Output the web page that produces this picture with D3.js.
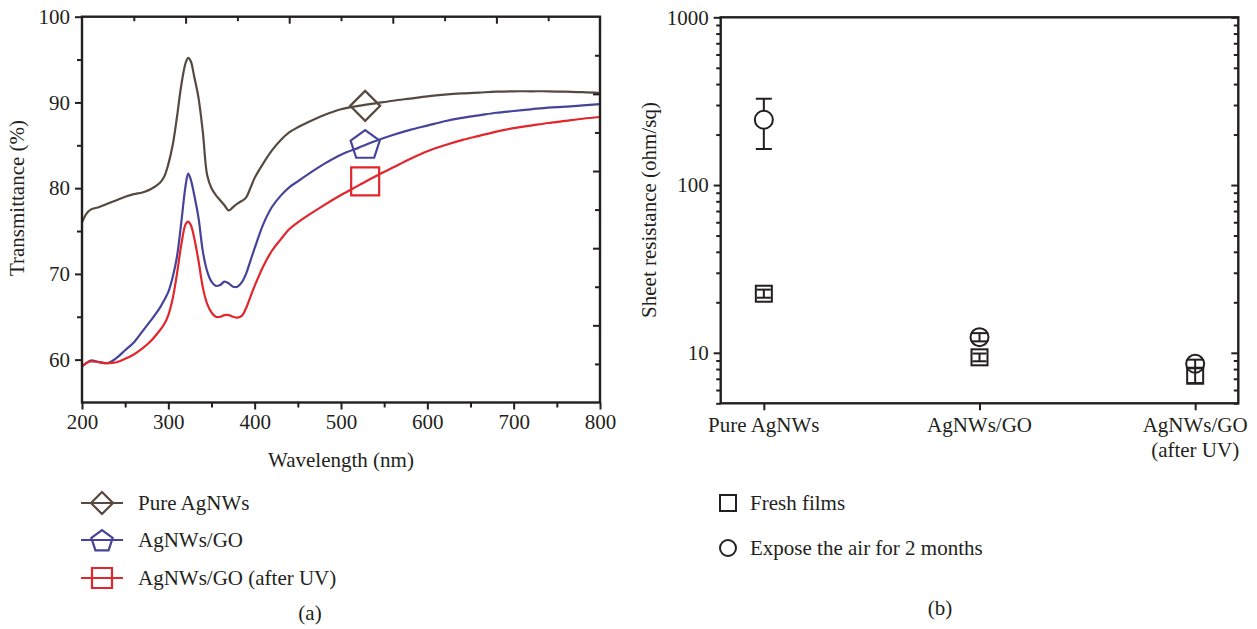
<!DOCTYPE html>
<html><head><meta charset="utf-8">
<script src="https://cdn.jsdelivr.net/npm/d3@7"></script>
<style>
html,body{margin:0;padding:0;background:#fff;}
svg text{font-family:"Liberation Serif","DejaVu Serif",serif;fill:#231f20;}
</style></head>
<body>
<svg id="c" width="1257" height="629"></svg>
<script>
// ---------- DATA (a) ----------
const wavelengths = [200,205,210,220,230,240,250,260,270,280,290,295,300,305,310,315,320,323,326,330,335,340,345,350,355,360,365,370,375,380,385,390,395,400,410,420,430,440,450,460,480,500,520,540,560,580,600,620,640,660,680,700,720,740,760,780,800];
const pureAgNWs = [76.0,77.0,77.5,77.8,78.2,78.6,79.0,79.3,79.5,79.9,80.6,81.3,82.8,85.0,88.3,92.0,94.6,95.2,94.8,93.0,90.5,86.5,81.5,80.0,79.2,78.6,78.0,77.4,77.8,78.2,78.5,78.9,80.0,81.2,82.9,84.4,85.6,86.5,87.1,87.6,88.5,89.2,89.6,89.9,90.2,90.45,90.7,90.9,91.05,91.15,91.25,91.3,91.3,91.3,91.25,91.2,91.1];
const agnwsGO = [59.2,59.6,59.9,59.7,59.6,60.2,61.1,62.0,63.3,64.6,66.0,66.9,67.9,69.6,72.0,76.0,80.3,81.7,81.0,79.2,76.5,72.6,70.3,69.1,68.6,68.7,69.1,68.9,68.5,68.5,69.0,70.0,71.5,73.0,75.8,77.8,79.1,80.1,80.8,81.5,82.8,83.9,84.7,85.5,86.2,86.8,87.3,87.8,88.2,88.5,88.8,89.0,89.2,89.4,89.5,89.65,89.8];
const agnwsGOUV = [59.2,59.6,59.8,59.7,59.6,59.7,60.1,60.6,61.3,62.2,63.4,64.1,65.2,67.1,70.0,73.4,75.8,76.1,75.7,74.2,71.5,68.4,66.5,65.5,65.0,65.0,65.2,65.2,65.0,64.9,65.1,66.0,67.3,68.6,70.9,72.7,74.0,75.2,76.0,76.7,78.0,79.2,80.3,81.4,82.4,83.4,84.3,85.0,85.6,86.1,86.6,87.0,87.3,87.6,87.85,88.1,88.3];
const seriesNamesA = ["Pure AgNWs","AgNWs/GO","AgNWs/GO (after UV)"];
const seriesColorsA = ["#574840","#45449a","#e2262b"];
const seriesSymbolsA = ["diamond","pentagon","square"];
const markerWavelength = 528;
const markerValues = [89.6, 85.2, 80.8];
const xTicksA = [200,300,400,500,600,700,800];
const yTicksA = [60,70,80,90,100];

// ---------- DATA (b) ----------
const categoriesB = ["Pure AgNWs","AgNWs/GO","AgNWs/GO\n(after UV)"];
const freshValues = [22.5, 9.4, 7.3];
const freshLow = [21.3, 8.9, 6.6];
const freshHigh = [23.8, 9.9, 8.1];
const exposedValues = [245, 12.4, 8.6];
const exposedLow = [164, 11.7, 8.1];
const exposedHigh = [327, 13.1, 9.1];
const yTicksB = [10,100,1000];
const legendB = ["Fresh films","Expose the air for 2 months"];

const ink = "#231f20";
const FS = "21px";
const svg = d3.select("#c");

// ================= CHART (a) =================
const xA = d3.scaleLinear().domain([200,800]).range([82,600]);
const yA = d3.scaleLinear().domain([55,100]).range([402.5,16.7]);
const gA = svg.append("g");

const seriesA = [pureAgNWs, agnwsGO, agnwsGOUV];
const line = d3.line().x((d,i)=>xA(wavelengths[i])).y(d=>yA(d)).curve(d3.curveCatmullRom.alpha(0.5));
seriesA.forEach((s,k)=>{
  gA.append("path").attr("d", line(s)).attr("fill","none")
    .attr("stroke", seriesColorsA[k]).attr("stroke-width",2.2).attr("stroke-linejoin","round");
});

function symPath(type, size){
  const h = size/2;
  if(type==="diamond") return `M0,${-h}L${h},0L0,${h}L${-h},0Z`;
  if(type==="square") return `M${-h},${-h}H${h}V${h}H${-h}Z`;
  if(type==="pentagon"){
    const r = h*1.02; let p="";
    for(let i=0;i<5;i++){const a=-Math.PI/2+i*2*Math.PI/5; p+=(i?"L":"M")+(r*Math.cos(a)).toFixed(2)+","+(r*Math.sin(a)+h*0.12).toFixed(2);}
    return p+"Z";
  }
}
markerValues.forEach((v,k)=>{
  gA.append("path").attr("d", symPath(seriesSymbolsA[k], seriesSymbolsA[k]==="square"?28:30))
    .attr("transform",`translate(${xA(markerWavelength)},${yA(v)})`)
    .attr("fill","none").attr("stroke",seriesColorsA[k]).attr("stroke-width",2.2);
});

gA.append("rect").attr("x",xA(200)).attr("y",yA(100)).attr("width",xA(800)-xA(200)).attr("height",yA(55)-yA(100))
  .attr("fill","none").attr("stroke",ink).attr("stroke-width",2.4);

gA.append("g").attr("transform",`translate(0,${yA(55)})`)
  .call(d3.axisBottom(xA).tickValues(xTicksA).tickSize(7).tickSizeOuter(0).tickPadding(5).tickFormat(d3.format("d")));
gA.append("g").attr("transform",`translate(0,${yA(55)})`)
  .call(d3.axisBottom(xA).tickValues(d3.range(250,800,100)).tickSize(5).tickSizeOuter(0).tickFormat(""));
gA.append("g").attr("transform",`translate(${xA(200)},0)`)
  .call(d3.axisLeft(yA).tickValues(yTicksA).tickSize(7).tickSizeOuter(0).tickPadding(5).tickFormat(d3.format("d")));
gA.append("g").attr("transform",`translate(${xA(200)},0)`)
  .call(d3.axisLeft(yA).tickValues([65,75,85,95]).tickSize(5).tickSizeOuter(0).tickFormat(""));
const topS = d3.scaleLinear().domain([0,10]).range([xA(200),xA(800)]);
gA.append("g").attr("transform",`translate(0,${yA(100)})`)
  .call(d3.axisTop(topS).tickValues([2,4,6,8]).tickSize(-7).tickSizeOuter(0).tickFormat(""));
gA.append("g").attr("transform",`translate(0,${yA(100)})`)
  .call(d3.axisTop(topS).tickValues([1,3,5,7,9]).tickSize(-4.5).tickSizeOuter(0).tickFormat(""));
const rightS = d3.scaleLinear().domain([0,10]).range([yA(100),yA(55)]);
gA.append("g").attr("transform",`translate(${xA(800)},0)`)
  .call(d3.axisRight(rightS).tickValues([2,4,6,8]).tickSize(-7).tickSizeOuter(0).tickFormat(""));
gA.append("g").attr("transform",`translate(${xA(800)},0)`)
  .call(d3.axisRight(rightS).tickValues([1,3,5,7,9]).tickSize(-5).tickSizeOuter(0).tickFormat(""));

gA.append("text").attr("x",(xA(200)+xA(800))/2).attr("y",467).attr("text-anchor","middle")
  .style("font-size",FS).text("Wavelength (nm)");
gA.append("text").attr("transform","translate(24,198) rotate(-90)").attr("text-anchor","middle")
  .style("font-size",FS).text("Transmittance (%)");

const legYA = [503, 540, 578];
seriesNamesA.forEach((n,k)=>{
  const g = gA.append("g").attr("transform",`translate(102,${legYA[k]})`);
  g.append("line").attr("x1",-21).attr("x2",21).attr("stroke",seriesColorsA[k]).attr("stroke-width",2.2);
  g.append("path").attr("d",symPath(seriesSymbolsA[k], seriesSymbolsA[k]==="square"?20:22))
    .attr("fill","none").attr("stroke",seriesColorsA[k]).attr("stroke-width",2.2);
  gA.append("text").attr("x",138).attr("y",legYA[k]).attr("dy","0.35em").style("font-size",FS).text(n);
});
gA.append("text").attr("x",310).attr("y",613).attr("text-anchor","middle").attr("dy","0.35em")
  .style("font-size",FS).text("(a)");

// ================= CHART (b) =================
const xB = d3.scaleLinear().domain([0.8,3.2]).range([720.7,1238.3]);
const yB = d3.scaleLog().domain([5,1000]).range([403.3,17.3]);
const gB = svg.append("g");

gB.append("rect").attr("x",xB(0.8)).attr("y",yB(1000)).attr("width",xB(3.2)-xB(0.8)).attr("height",yB(5)-yB(1000))
  .attr("fill","none").attr("stroke",ink).attr("stroke-width",2.4);

const minorB = [];
[1,10,100].forEach(dec=>{for(let m=2;m<=9;m++){const v=m*dec; if(v>=5 && v<1000 && v!==10 && v!==100) minorB.push(v);}});
gB.append("g").attr("transform",`translate(${xB(0.8)},0)`)
  .call(d3.axisLeft(yB).tickValues(yTicksB).tickSize(7).tickSizeOuter(0).tickPadding(5).tickFormat(d3.format("d")));
gB.append("g").attr("transform",`translate(${xB(0.8)},0)`)
  .call(d3.axisLeft(yB).tickValues(minorB).tickSize(4.5).tickSizeOuter(0).tickFormat(""));
gB.append("g").attr("transform",`translate(${xB(3.2)},0)`)
  .call(d3.axisRight(yB).tickValues(yTicksB).tickSize(-7).tickSizeOuter(0).tickFormat(""));
gB.append("g").attr("transform",`translate(${xB(3.2)},0)`)
  .call(d3.axisRight(yB).tickValues(minorB).tickSize(-4.5).tickSizeOuter(0).tickFormat(""));
gB.append("g").attr("transform",`translate(0,${yB(5)})`)
  .call(d3.axisBottom(xB).tickValues([1,2,3]).tickSize(7).tickSizeOuter(0).tickPadding(5).tickFormat(""));
categoriesB.forEach((c,i)=>{
  const t = gB.append("text").attr("x",xB(i+1)).attr("y",432).attr("text-anchor","middle").style("font-size",FS);
  c.split("\n").forEach((ln,j)=>t.append("tspan").attr("x",xB(i+1)).attr("dy", j?"1.2em":0).text(ln));
});
gB.append("text").attr("transform","translate(656,210) rotate(-90)").attr("text-anchor","middle")
  .style("font-size",FS).text("Sheet resistance (ohm/sq)");

function errBar(i, lo, hi, cap){
  const x = xB(i+1);
  gB.append("line").attr("x1",x).attr("x2",x).attr("y1",yB(lo)).attr("y2",yB(hi)).attr("stroke",ink).attr("stroke-width",2);
  [lo,hi].forEach(v=>gB.append("line").attr("x1",x-cap/2).attr("x2",x+cap/2).attr("y1",yB(v)).attr("y2",yB(v)).attr("stroke",ink).attr("stroke-width",2));
}
freshValues.forEach((v,i)=>{
  errBar(i, freshLow[i], freshHigh[i], 14);
  gB.append("rect").attr("x",xB(i+1)-8).attr("y",yB(v)-8).attr("width",16).attr("height",16)
    .attr("fill","none").attr("stroke",ink).attr("stroke-width",2);
});
exposedValues.forEach((v,i)=>{
  errBar(i, exposedLow[i], exposedHigh[i], 16);
  gB.append("circle").attr("cx",xB(i+1)).attr("cy",yB(v)).attr("r",9)
    .attr("fill", i===0?"#fff":"none").attr("stroke",ink).attr("stroke-width",2);
});

svg.selectAll(".domain").remove();
svg.selectAll(".tick line").attr("stroke",ink).attr("stroke-width",2);
svg.selectAll(".tick text").style("font-size",FS).attr("fill",ink);

gB.append("rect").attr("x",720).attr("y",495).attr("width",16).attr("height",16).attr("fill","none").attr("stroke",ink).attr("stroke-width",2);
gB.append("text").attr("x",750).attr("y",503).attr("dy","0.35em").style("font-size",FS).text(legendB[0]);
gB.append("circle").attr("cx",728).attr("cy",548).attr("r",8).attr("fill","none").attr("stroke",ink).attr("stroke-width",2);
gB.append("text").attr("x",750).attr("y",548).attr("dy","0.35em").style("font-size",FS).text(legendB[1]);
gB.append("text").attr("x",940).attr("y",608).attr("text-anchor","middle").attr("dy","0.35em")
  .style("font-size",FS).text("(b)");
</script>
</body></html>
